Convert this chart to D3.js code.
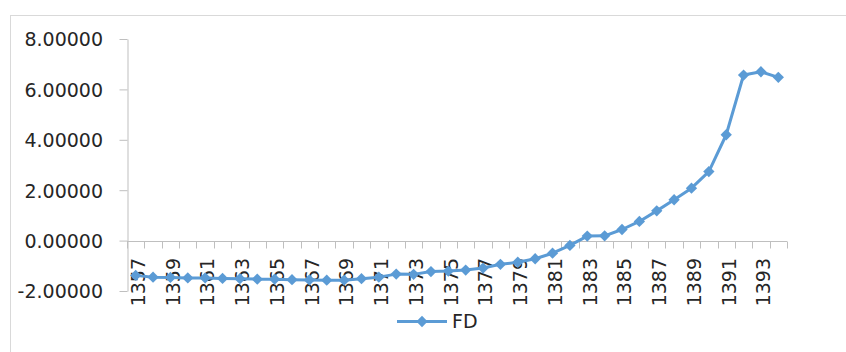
<!DOCTYPE html>
<html>
<head>
<meta charset="utf-8">
<script src="https://cdn.jsdelivr.net/npm/d3@7"></script>
<style>
  html, body { margin: 0; padding: 0; background: #fff; }
  svg { display: block; }
  text { font-family: "DejaVu Sans", sans-serif; fill: #262626; }
</style>
</head>
<body>
<svg id="chart" width="846" height="352"></svg>
<script>
// Years (categories) and FD series values
const years = [1357, 1358, 1359, 1360, 1361, 1362, 1363, 1364, 1365, 1366,
               1367, 1368, 1369, 1370, 1371, 1372, 1373, 1374, 1375, 1376,
               1377, 1378, 1379, 1380, 1381, 1382, 1383, 1384, 1385, 1386,
               1387, 1388, 1389, 1390, 1391, 1392, 1393, 1394];
const fd = [-1.38, -1.45, -1.46, -1.48, -1.48, -1.50, -1.51, -1.53, -1.53, -1.55,
            -1.56, -1.57, -1.57, -1.51, -1.45, -1.33, -1.34, -1.23, -1.21, -1.17,
            -1.09, -0.94, -0.86, -0.72, -0.50, -0.19, 0.18, 0.19, 0.44, 0.76,
            1.18, 1.62, 2.08, 2.74, 4.20, 6.57, 6.70, 6.48];
const yTicks = [-2, 0, 2, 4, 6, 8];
const xTickLabels = [1357, 1359, 1361, 1363, 1365, 1367, 1369, 1371, 1373, 1375,
                     1377, 1379, 1381, 1383, 1385, 1387, 1389, 1391, 1393];
const seriesName = "FD";

const color = "#5B9BD5";
const axisColor = "#BFBFBF";
const fontSize = 19;

const svg = d3.select("#chart");

// chart frame
svg.append("rect")
  .attr("x", 10.5).attr("y", 15.5)
  .attr("width", 900).attr("height", 400)
  .attr("fill", "#fff")
  .attr("stroke", "#D9D9D9").attr("stroke-width", 1);

const x = d3.scaleBand().domain(years).range([127, 787]).padding(0);
const y = d3.scaleLinear().domain([-2, 8]).range([291, 39]);
const cx = d => x(d) + x.bandwidth() / 2;

const fmt = d3.formatLocale({ decimal: ".", thousands: ",", grouping: [3], currency: ["", ""], minus: "-" }).format(".5f");

// value axis
const yAxis = d3.axisLeft(y).tickValues(yTicks).tickSize(8).tickSizeOuter(0).tickFormat(fmt);
const gy = svg.append("g").attr("transform", "translate(127.5,0)").call(yAxis);
gy.select(".domain").attr("stroke", axisColor);
gy.selectAll(".tick line").attr("stroke", axisColor);
gy.selectAll(".tick text")
  .attr("x", -24.5)
  .attr("dy", "0.36em")
  .style("font-size", fontSize + "px")
  .style("font-family", "DejaVu Sans, sans-serif")
  .attr("fill", "#262626");

// category axis crossing at zero
const y0 = Math.round(y(0)) + 0.5;
const gx = svg.append("g");
gx.append("line")
  .attr("x1", x.range()[0]).attr("x2", x.range()[1])
  .attr("y1", y0).attr("y2", y0)
  .attr("stroke", axisColor);
const bounds = years.map(d => x(d)).concat([x.range()[1]]);
gx.selectAll("line.tk").data(bounds).join("line")
  .attr("class", "tk")
  .attr("x1", d => Math.round(d) + 0.5).attr("x2", d => Math.round(d) + 0.5)
  .attr("y1", y0).attr("y2", y0 + 7)
  .attr("stroke", axisColor);

// category labels (every other year), beneath the series
gx.selectAll("text").data(xTickLabels).join("text")
  .attr("transform", d => `translate(${cx(d)},258) rotate(-90)`)
  .attr("text-anchor", "end")
  .attr("dy", "0.49em")
  .style("font-size", fontSize + "px")
  .text(d => d);

// line series
const line = d3.line().x((d, i) => cx(years[i])).y(d => y(d));
svg.append("path")
  .datum(fd)
  .attr("d", line)
  .attr("fill", "none")
  .attr("stroke", color)
  .attr("stroke-width", 3)
  .attr("stroke-linejoin", "round");

// diamond markers
const diamond = d3.symbol().type(d3.symbolSquare).size(64);
svg.selectAll("path.mk").data(fd).join("path")
  .attr("class", "mk")
  .attr("d", diamond)
  .attr("transform", (d, i) => `translate(${cx(years[i])},${y(d)}) rotate(45)`)
  .attr("fill", color);

// legend
const lg = svg.append("g").attr("transform", "translate(397,321.5)");
lg.append("line").attr("x1", 0).attr("x2", 50).attr("y1", 0).attr("y2", 0)
  .attr("stroke", color).attr("stroke-width", 3);
lg.append("path").attr("d", diamond).attr("transform", "translate(25,0) rotate(45)").attr("fill", color);
lg.append("text").attr("x", 55).attr("dy", "0.36em")
  .style("font-size", fontSize + "px").text(seriesName);
</script>
</body>
</html>
